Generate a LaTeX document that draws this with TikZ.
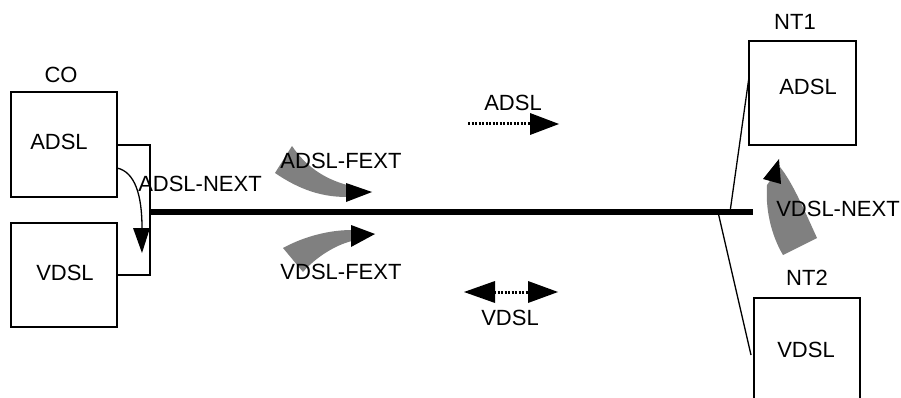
\documentclass[tikz,border=0pt]{standalone}
\usepackage{fontspec}
\setmainfont{Liberation Sans}
\begin{document}
\begin{tikzpicture}[x=1pt,y=-1pt,
  lbl/.style={inner sep=0pt,font=\fontsize{22}{24}\selectfont},
  box/.style={draw,line width=1.3pt},
  wire/.style={line width=1.5pt},
  fan/.style={fill=black!50,draw=none},
  head/.style={fill=black,draw=none},
  dotln/.style={line width=3pt,dash pattern=on 2pt off 1.5pt}]
\clip (0,0) rectangle (901,398);
\fill[white] (0,0) rectangle (901,398);
% CO side
\node[lbl] (co) at (61,75) {CO};
\draw[box] (11,92) rectangle (117,197);
\draw[box] (11,223) rectangle (117,327);
\node[lbl] (coadsl) at (59,142) {ADSL};
\node[lbl] (covdsl) at (65,273) {VDSL};
\coordinate (ba) at (117,145);
\coordinate (bv) at (117,275);
\coordinate (bx1) at (150,145);
\coordinate (bx2) at (150,275);
\draw[wire] (ba) -- (bx1) -- (bx2) -- (bv);
% main line
\coordinate (ls) at (150,212);
\coordinate (le) at (753,212);
\draw[line width=6pt] (ls) -- (le);
% ADSL-NEXT curved arrow
\coordinate (ns) at (117,168);
\coordinate (nb) at (142,228);
\draw[line width=1.3pt] (ns) .. controls (135,172) and (142,195) .. (nb);
\fill[head] (133,228) -- (142,253) -- (150,228) -- cycle;
\node[lbl] (anext) at (200,184) {ADSL-NEXT};
% ADSL-FEXT
\fill[fan] (292,146) -- (275,173) .. controls (300,190) and (322,197) .. (347,197) -- (347,185) .. controls (322,178) and (305,165) .. cycle;
\fill[head] (346,183) -- (372,192) -- (346,202) -- cycle;
\node[lbl] (afext) at (341,161) {ADSL-FEXT};
% VDSL-FEXT
\fill[fan] (283,248) .. controls (305,236) and (330,230) .. (352,230) -- (352,241) .. controls (335,245) and (315,258) .. (303,272) -- cycle;
\fill[head] (351,225) -- (375,234) -- (351,247) -- cycle;
\node[lbl] (vfext) at (341,272) {VDSL-FEXT};
% ADSL dotted arrow
\node[lbl] (adsl) at (513,103) {ADSL};
\coordinate (a1) at (468,124);
\coordinate (a2) at (531,124);
\draw[dotln] (a1) -- (a2);
\fill[head] (530,113) -- (559,124) -- (530,135) -- cycle;
% VDSL double arrow
\node[lbl] (vdsl) at (510,318) {VDSL};
\coordinate (v1) at (494,292);
\coordinate (v2) at (529,292);
\draw[dotln] (v1) -- (v2);
\fill[head] (495,281) -- (464,292) -- (495,303) -- cycle;
\fill[head] (528,281) -- (558,292) -- (528,303) -- cycle;
% NT side
\node[lbl] (nt1) at (795,22) {NT1};
\draw[box] (749,41) rectangle (856,145);
\node[lbl] (ntadsl) at (808,87) {ADSL};
\node[lbl] (nt2) at (807,278) {NT2};
\draw[box] (754,298) rectangle (860,420);
\node[lbl] (ntvdsl) at (806,350) {VDSL};
\coordinate (j1) at (730,212);
\coordinate (j2) at (718,212);
\coordinate (t1) at (749,77);
\coordinate (t2) at (751,355);
\draw[line width=1.3pt] (j1) -- (t1);
\draw[line width=1.3pt] (j2) -- (t2);
% VDSL-NEXT
\fill[fan] (767,185) .. controls (765,215) and (774,240) .. (783,255) -- (817,238) .. controls (802,205) and (792,182) .. (780,167) -- cycle;
\fill[head] (779,159) -- (763,179) -- (781,184) -- cycle;
\node[lbl] (vnext) at (838,209) {VDSL-NEXT};
\end{tikzpicture}
\end{document}
